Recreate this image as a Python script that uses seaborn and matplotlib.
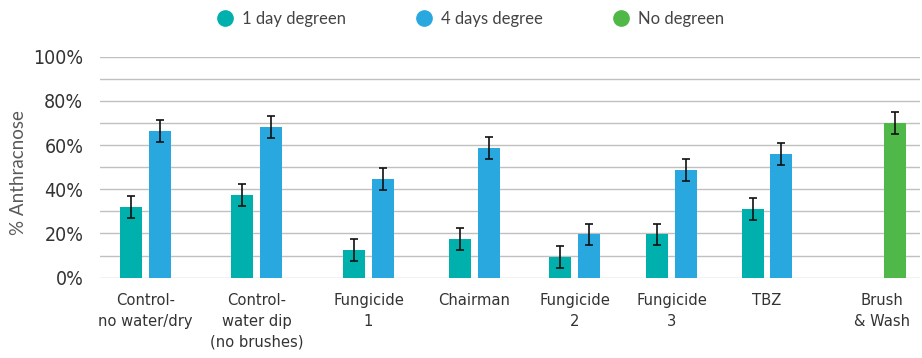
import matplotlib
matplotlib.use("Agg")
import matplotlib.pyplot as plt
from matplotlib.lines import Line2D
from matplotlib.font_manager import FontProperties, fontManager
import numpy as np
import pandas as pd
import seaborn as sns

# ---------------- data ----------------
categories = ["Control-\nno water/dry", "Control-\nwater dip\n(no brushes)", "Fungicide\n1",
              "Chairman", "Fungicide\n2", "Fungicide\n3", "TBZ"]
one_day = [32.0, 37.4, 12.5, 17.4, 9.3, 19.7, 31.0]
one_day_err = [5.0, 4.8, 4.8, 4.9, 5.0, 4.8, 5.0]
four_days = [66.5, 68.2, 44.6, 58.6, 19.7, 48.6, 55.9]
four_days_err = [5.0, 4.9, 5.0, 4.9, 4.8, 5.0, 5.0]
no_degreen_categories = ["Brush\n& Wash"]
no_degreen = [70.0]
no_degreen_err = [5.0]
series_names = ["1 day degreen", "4 days degree", "No degreen"]
y_ticks = [0, 20, 40, 60, 80, 100]
y_tick_labels = ["0%", "20%", "40%", "60%", "80%", "100%"]
y_label = "% Anthracnose"

# ---------------- layout / style ----------------
group_centers = [145.3, 256.5, 368.5, 474.5, 574.5, 671.5, 767.0]
single_centers = [895.0]
single_label_centers = [882.0]
colors = ["#00b0ad", "#29a8e0", "#50b848"]

# pick a condensed font if one is installed
cond_family, cond_stretch, cond_found = "Roboto", "normal", False
for f in fontManager.ttflist:
    st = f.stretch
    is_cond = ("Condensed" in f.name or "Narrow" in f.name or
               st in ("condensed", "semi-condensed", "extra-condensed") or
               (isinstance(st, int) and st < 500))
    if is_cond and f.style == "normal" and f.weight in (400, "normal", "regular", "book"):
        cond_family, cond_stretch, cond_found = f.name, st, True
        break
if cond_found:
    ytick_size, xtick_size = 14, 11.8
else:
    ytick_size, xtick_size = 13.5, 11.5
cond_font = [cond_family, "DejaVu Sans"]
light_font = ["Lato", "DejaVu Sans"]

sns.set_theme(style="white")
plt.rcParams["font.family"] = ["DejaVu Sans"]

fig = plt.figure(figsize=(9.22, 3.58), dpi=100)
ax = fig.add_axes([100 / 922, 1 - 277.7 / 358, 820 / 922, (277.7 - 56.7) / 358])

pairs = pd.DataFrame({
    "pos": group_centers * 2,
    "value": one_day + four_days,
    "series": [series_names[0]] * len(one_day) + [series_names[1]] * len(four_days),
})
single = pd.DataFrame({"pos": single_centers, "value": no_degreen})

sns.barplot(data=pairs, x="pos", y="value", hue="series", hue_order=series_names[:2],
            palette=colors[:2], native_scale=True, width=0.601, gap=0.233,
            errorbar=None, legend=False, ax=ax, saturation=1, linewidth=0)
sns.barplot(data=single, x="pos", y="value", color=colors[2], native_scale=True,
            width=22, errorbar=None, ax=ax, saturation=1, linewidth=0)

# error bars from the drawn bars
errs = [one_day_err, four_days_err, no_degreen_err]
for cont, err in zip(ax.containers, errs):
    xs = [p.get_x() + p.get_width() / 2 for p in cont.patches]
    hs = [p.get_height() for p in cont.patches]
    ax.errorbar(xs, hs, yerr=err, fmt="none", ecolor="#111111", elinewidth=1.2,
                capsize=3, capthick=1.2, zorder=5)

ax.set_xlim(100, 920)
ax.set_ylim(0, 100)
ax.set_yticks(np.arange(0, 101, 10))
ax.set_yticklabels([y_tick_labels[y_ticks.index(v)] if v in y_ticks else "" for v in range(0, 101, 10)],
                   family=cond_font, stretch=cond_stretch, fontsize=ytick_size, color="#333333")
ax.set_xticks(group_centers + single_label_centers)
ax.set_xticklabels(categories + no_degreen_categories, family=cond_font, stretch=cond_stretch,
                   fontsize=xtick_size, color="#333333", linespacing=1.5)
ax.tick_params(axis="both", length=0)
ax.tick_params(axis="y", pad=12)
ax.tick_params(axis="x", pad=11)
ax.grid(axis="y", color="#c0c0c0", linewidth=1.0)
ax.set_axisbelow(True)
for s in ax.spines.values():
    s.set_visible(False)
ax.set_xlabel("")
ax.set_ylabel("")

fig.text(19 / 922, 1 - 172.5 / 358, y_label, rotation=90, ha="center", va="center",
         family=light_font, fontsize=13.5, color="#5a5a5a")

handles = [Line2D([], [], marker="o", linestyle="none", markersize=11, color=c) for c in colors]
fig.legend(handles, series_names, loc="center", bbox_to_anchor=(0.51, 1 - 19 / 358), ncol=3,
           frameon=False, handlelength=1.0, handletextpad=0.5, columnspacing=4.2,
           prop=FontProperties(family=light_font, size=12), labelcolor="#444444")

fig.savefig("out.png", dpi=100)
